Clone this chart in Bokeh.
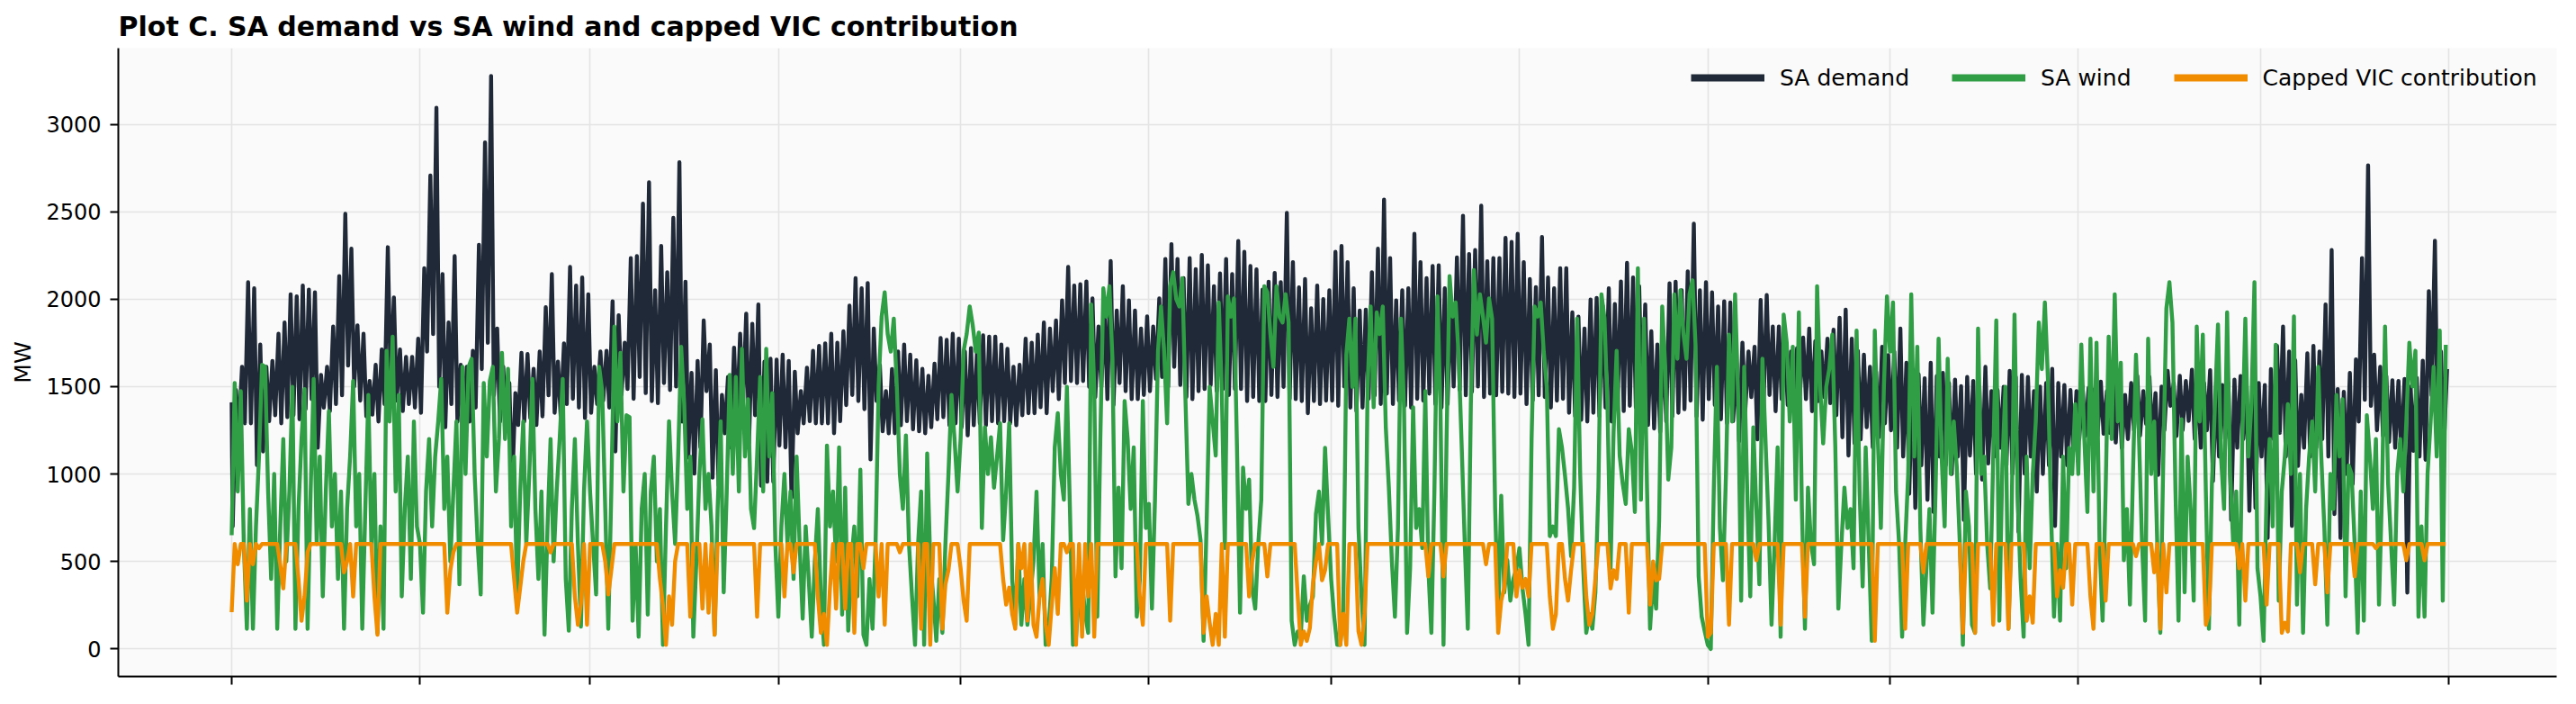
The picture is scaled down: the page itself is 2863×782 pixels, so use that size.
import pandas as pd
from bokeh.plotting import figure
from bokeh.models import (ColumnDataSource, Range1d, FixedTicker, Legend, LegendItem,
                          CustomJSTickFormatter)
from bokeh.embed import file_html
from bokeh.resources import INLINE

# ---------------------------------------------------------------- data
title_text = "Plot C. SA demand vs SA wind and capped VIC contribution"
series_names = ["SA demand", "SA wind", "Capped VIC contribution"]
y_label = "MW"
y_ticks = [0, 500, 1000, 1500, 2000, 2500, 3000]
year_start = "2023-01-01"

# SA demand (MW): value at the very start, then one overnight low and one evening high per day
demand_start = 1410
demand_daily_min = [
    # Jan
    700, 1244, 1290, 1290, 1050, 1129, 1302, 1336, 1290, 1325, 1336, 1313, 1371, 1428, 1150, 1380,
    1360, 1400, 1450, 1620, 1500, 1420, 1330, 1340, 1300, 1400, 1530, 1420, 1360, 1400, 1380,
    # Feb
    1350, 1700, 1800, 1500, 1267, 1400, 1300, 1250, 1300, 1380, 1600, 1750, 1450, 1300, 1270, 920,
    1280, 1300, 1320, 1280, 1330, 1450, 1350, 1330, 1400, 1430, 1380, 1320,
    # Mar
    1350, 1400, 1420, 1380, 1129, 1452, 1486, 1430, 1555, 1463, 1417, 1405, 1520, 1480, 1500, 1300,
    1094, 1002, 1152, 1474, 979, 933, 1233, 1152, 1290, 1382, 1175, 1336, 933, 956, 956,
    # Apr
    1163, 1152, 864, 1233, 1290, 1302, 1290, 1290, 1290, 1233, 1302, 1394, 1452, 1417, 1371, 1083,
    1417, 1244, 1233, 1233, 1279, 1302, 1256, 1244, 1233, 1267, 1313, 1325, 1279, 1290,
    # May
    1267, 1221, 1279, 1290, 1279, 1302, 1290, 1302, 1290, 1279, 1336, 1348, 1348, 1382, 1348, 1474,
    1428, 1520, 1532, 1520, 1532, 1498, 1440, 1498, 1428, 1394, 1520, 1474, 1428, 1428, 1452,
    # Jun
    1474, 1544, 1555, 1498, 1613, 1509, 1440, 1428, 1474, 1486, 1509, 1474, 1486, 1452, 1486, 1486,
    1417, 1440, 1417, 1417, 1452, 1440, 1498, 1428, 1428, 1417, 1348, 1417, 1400, 1420,
    # Jul
    1420, 1390, 1500, 1380, 1360, 1380, 1430, 1450, 1400, 1460, 1400, 1420, 1390, 1380, 1430, 1420,
    1460, 1400, 1380, 1400, 1500, 1480, 1450, 1470, 1500, 1440, 1460, 1450, 1470, 1460, 1440,
    # Aug
    1460, 1400, 1420, 1450, 1440, 1380, 1420, 1430, 1350, 1330, 1310, 1300, 1350, 1330, 1380, 1300,
    1400, 1360, 1390, 1380, 1370, 1280, 1260, 1240, 1300, 1330, 1350, 1370, 1420, 1330, 1310,
    # Sep
    1428, 1394, 1313, 1290, 1302, 1187, 1359, 1440, 1198, 1371, 1452, 1359, 1428, 1394, 1417, 1452,
    1428, 1359, 1417, 1440, 1405, 1336, 1210, 1106, 1175, 1198, 1267, 1152, 1210, 1290,
    # Oct
    1250, 1150, 1100, 887, 806, 1050, 852, 783, 1100, 1050, 1000, 1100, 737, 1106, 1000, 968,
    1060, 1100, 1150, 1050, 1000, 668, 1002, 1100, 899, 1000, 1050, 703, 1100, 1050, 1132,
    # Nov
    1200, 1218, 1250, 1218, 1230, 1235, 1180, 1149, 1200, 1250, 1220, 1287, 1200, 995, 1250, 1390,
    1218, 1250, 1304, 1200, 1150, 1250, 960, 1100, 1200, 737, 1150, 1200, 789, 806,
    # Dec
    1100, 634, 1200, 1235, 1100, 703, 1046, 1150, 1100, 1150, 1200, 1100, 771, 634, 1000, 943,
    1300, 1424, 1390, 1250, 1218, 1184, 1150, 1100, 322, 1132, 1100, 1081, 1450, 1200, 1150,
]
demand_daily_max = [
    # Jan
    1480, 1613, 2097, 2062, 1740, 1613, 1647, 1802, 1866, 2028, 2016, 2078, 2055, 2039, 1567, 1613,
    1843, 2131, 2488, 2288, 1850, 1802, 1532, 1624, 1712, 2297, 2009, 1712, 1670, 1670, 1774,
    # Feb
    2177, 2707, 3094, 2143, 1866, 2246, 1624, 1613, 1705, 2311, 2896, 3276, 1832, 1613, 1520, 1463,
    1693, 1686, 1601, 1700, 1954, 2143, 1642, 1747, 2184, 2078, 2124, 2028,
    # Mar
    1613, 1700, 1705, 1988, 1908, 1751, 2235, 2246, 2546, 2668, 2051, 2304, 2154, 2465, 2783, 2100,
    1578, 1647, 1878, 1740, 1594, 1452, 1555, 1723, 1802, 1917, 1859, 1970, 1642, 1659, 1654,
    # Apr
    1682, 1647, 1585, 1474, 1608, 1705, 1733, 1747, 1802, 1751, 1816, 1963, 2120, 2062, 2092, 1832,
    1624, 1474, 1600, 1700, 1740, 1682, 1650, 1601, 1562, 1631, 1778, 1767, 1802, 1774,
    # May
    1700, 1720, 1705, 1793, 1786, 1786, 1740, 1716, 1613, 1624, 1774, 1751, 1797, 1866, 1832, 1878,
    1993, 2184, 2078, 2085, 2101, 2004, 1843, 1935, 2218, 1935, 2074, 1993, 1935, 1832, 1901,
    # Jun
    1843, 2004, 2230, 2315, 2230, 2120, 2235, 2172, 2253, 2193, 2074, 2147, 2230, 2143, 2332, 2270,
    2189, 2170, 2055, 2100, 2150, 2097, 2493, 2212, 2067, 2115, 1947, 2078, 2000, 2050,
    # Jul
    2270, 2304, 2212, 2062, 1935, 1940, 2154, 2288, 2569, 2235, 1993, 2050, 2062, 2373, 2212, 2120,
    2189, 2193, 2062, 2000, 2239, 2477, 2258, 2281, 2534, 2216, 2235, 2235, 2350, 2327, 2373,
    # Aug
    2212, 2115, 2069, 2355, 2124, 2062, 2177, 2177, 1924, 1900, 1832, 1998, 2007, 1963, 2062, 1972,
    2101, 2207, 2124, 2074, 1970, 1816, 1740, 1774, 2090, 2100, 2051, 2159, 2431, 2050, 2097,
    # Sep
    2039, 1958, 1988, 1981, 1647, 1751, 1700, 1728, 1995, 2023, 1843, 1843, 1750, 1700, 1720, 1780,
    1832, 1760, 1700, 1774, 1825, 1894, 1940, 1774, 1705, 1682, 1613, 1585, 1728, 1680,
    # Oct
    1700, 1832, 1636, 1600, 1570, 1548, 1636, 1560, 1578, 1520, 1540, 1502, 1555, 1532, 1500, 1613,
    1474, 1480, 1498, 1590, 1555, 1567, 1555, 1474, 1500, 1520, 1601, 1520, 1509, 1480, 1474,
    # Nov
    1500, 1493, 1486, 1528, 1474, 1545, 1520, 1452, 1520, 1562, 1474, 1555, 1463, 1500, 1590, 1520,
    1562, 1532, 1596, 1480, 1520, 1594, 1530, 1509, 1520, 1540, 1560, 1500, 1480, 1520,
    # Dec
    1509, 1600, 1733, 1843, 1700, 1650, 1452, 1690, 1733, 1700, 1970, 2281, 1486, 1470, 1578, 1656,
    2235, 2765, 1682, 1613, 1560, 1536, 1532, 1544, 1500, 1550, 1648, 2046, 2334, 1700, 1600,
]

# SA wind (MW), two readings per day (00:00 and 12:00)
wind_half_daily = [
    # Jan
    650, 1520, 900, 1474, 600, 115, 800, 115, 700, 1100, 1624, 1613, 900, 400, 1000, 115,
    700, 1200, 500, 900, 1498, 115, 800, 1200, 1486, 115, 900, 1544, 600, 1100, 300, 900,
    1359, 700, 1000, 400, 900, 115, 800, 1100, 1532, 700, 1000, 115, 800, 1452, 600, 1000,
    92, 700, 115, 1705, 1300, 1786, 900, 1452, 300, 800, 1100, 400, 1300, 700,
    # Feb
    600, 207, 900, 1200, 700, 1100, 1300, 1544, 800, 1100, 500, 900, 1300, 369, 1613, 1000,
    1613, 1659, 1000, 600, 311, 1520, 1100, 1532, 1613, 900, 1200, 1693, 1200, 1601, 700, 1100,
    300, 900, 1300, 600, 1000, 1544, 800, 400, 900, 81, 700, 1200, 500, 900, 1200, 1544,
    400, 104, 800, 1200, 600, 127, 900, 1300,
    # Mar
    900, 600, 311, 1613, 1474, 800, 115, 900, 1843, 1300, 1693, 900, 1336, 1325, 161, 600,
    69, 800, 1000, 196, 900, 1100, 500, 800, 23, 700, 1302, 900, 600, 1100, 1728, 1400,
    800, 1100, 69, 500, 1000, 1313, 800, 1000, 700, 81, 800, 1302, 323, 900, 1567, 1000,
    1555, 900, 1716, 1100, 1428, 800, 691, 1100, 1555, 900, 1716, 1100, 1463, 600,
    # Apr
    184, 700, 1000, 600, 900, 400, 1100, 600, 173, 700, 400, 69, 500, 800, 300, 23,
    1163, 700, 900, 500, 1152, 196, 922, 104, 500, 700, 300, 1025, 81, 23, 400, 115,
    600, 1500, 1900, 2039, 1800, 1700, 1889, 1500, 1000, 800, 1221, 600, 300, 23, 600, 900,
    23, 1117, 500, 300, 46, 400, 92, 600, 1000, 1452, 1200, 900,
    # May
    1200, 1705, 1800, 1958, 1850, 1700, 1809, 691, 1267, 1000, 1210, 922, 1100, 1290, 622, 900,
    1290, 400, 138, 600, 138, 400, 138, 300, 500, 899, 300, 600, 23, 115, 400, 1152,
    1348, 1000, 853, 1498, 800, 23, 69, 300, 392, 200, 92, 1970, 1500, 184, 1200, 2062,
    1900, 2074, 1659, 415, 922, 461, 1417, 1200, 800, 1152, 184, 392, 1417, 691,
    # Jun
    829, 230, 853, 1705, 1958, 1700, 1290, 2074, 2154, 2000, 1958, 2120, 1452, 829, 1000, 853,
    760, 622, 46, 714, 1498, 1300, 1106, 1981, 1474, 576, 2016, 1900, 2004, 1152, 207, 1037,
    800, 968, 346, 230, 600, 853, 2074, 2039, 1800, 1613, 2074, 1900, 1866, 2028, 1866, 161,
    23, 100, 69, 415, 161, 250, 300, 772, 900, 600, 1150, 760,
    # Jul
    400, 184, 23, 23, 230, 1682, 1889, 1498, 1889, 691, 300, 23, 1498, 1958, 1382, 1924,
    1800, 1958, 1267, 922, 500, 184, 691, 1889, 1382, 92, 461, 1382, 691, 800, 576, 1474,
    461, 92, 900, 2016, 1382, 23, 1200, 2131, 1900, 1981, 1670, 1152, 600, 115, 1400, 2166,
    1797, 2028, 1900, 1751, 2004, 1889, 800, 184, 876, 323, 507, 276, 400, 461,
    # Aug
    576, 346, 200, 23, 1200, 1958, 1900, 1981, 1700, 1498, 645, 700, 645, 1256, 1152, 991,
    806, 530, 922, 1889, 1000, 461, 92, 200, 115, 323, 922, 2028, 1889, 1382, 461, 1244,
    1705, 1106, 945, 829, 1256, 1129, 783, 2177, 853, 1889, 922, 115, 400, 230, 737, 1958,
    1613, 968, 1152, 2028, 1659, 2051, 1800, 1659, 2028, 2108, 1728, 415, 184, 100,
    # Sep
    23, 0, 922, 1613, 691, 392, 1000, 1797, 1300, 2028, 1452, 276, 1613, 900, 300, 1267,
    800, 369, 1659, 1200, 737, 138, 600, 1152, 69, 1912, 1751, 1300, 1728, 853, 1924, 800,
    115, 922, 600, 484, 2074, 1500, 1175, 1498, 1600, 1797, 1152, 230, 600, 922, 691, 800,
    461, 1820, 900, 357, 1152, 600, 46, 1820, 1200, 691, 1500, 2016,
    # Oct
    1700, 1981, 900, 600, 69, 600, 1000, 2028, 1100, 1728, 691, 138, 461, 800, 207, 900,
    1774, 1100, 700, 1659, 1000, 1300, 1037, 600, 23, 900, 700, 138, 92, 1832, 1000, 1100,
    600, 346, 1100, 1878, 161, 1050, 1498, 115, 700, 1912, 900, 400, 69, 1100, 461, 1000,
    1300, 1866, 1600, 1981, 1544, 800, 184, 600, 161, 1100, 461, 1150, 1000, 1400,
    # Nov
    1000, 1740, 1200, 783, 1774, 900, 1751, 600, 161, 900, 1786, 1200, 2028, 1300, 1636, 507,
    800, 253, 1000, 1682, 1200, 600, 161, 1774, 1000, 1300, 600, 92, 1100, 1947, 2097, 1866,
    900, 161, 1313, 323, 1100, 800, 276, 1843, 1300, 1797, 900, 115, 950, 1400, 1855, 1100,
    800, 1924, 1000, 600, 900, 138, 1200, 1889, 1100, 1400, 2097, 461,
    # Dec
    300, 46, 900, 1200, 700, 1739, 276, 900, 1100, 1400, 1000, 1901, 253, 1000, 92, 800,
    1100, 1300, 900, 1613, 1100, 700, 138, 1000, 800, 1452, 1100, 1428, 300, 1050, 1000, 600,
    92, 900, 161, 1336, 1100, 800, 1200, 253, 900, 1843, 950, 600, 253, 1000, 1200, 900,
    1300, 1751, 1500, 1705, 184, 700, 184, 1000, 1300, 1613, 1100, 1820, 276, 1739,
]

# Capped VIC contribution (MW): sits at the cap except at the listed half-day readings
vic_cap = 600
vic_dip_index = [
    0, 2, 5, 7, 9, 16, 17, 22, 23, 24, 25, 37, 38, 40, 47, 48, 71, 72, 73, 93, 94, 95, 96, 105,
    113, 114, 115, 117, 123, 124, 125, 141, 142, 143, 144, 145, 146, 151, 155, 157, 159, 173,
    182, 185, 193, 194, 195, 196, 197, 199, 202, 205, 208, 213, 215, 220, 227, 230, 234, 235,
    236, 240, 241, 242, 254, 255, 256, 257, 258, 260, 262, 264, 265, 266, 267, 268, 269, 270,
    271, 272, 275, 278, 280, 282, 284, 299, 300, 309, 320, 321, 322, 323, 324, 325, 327, 335,
    336, 341, 351, 352, 353, 354, 355, 356, 357, 359, 360, 365, 366, 367, 371, 372, 373, 394,
    399, 413, 417, 418, 419, 423, 424, 425, 426, 427, 434, 435, 436, 439, 440, 441, 446, 447,
    448, 449, 454, 455, 456, 460, 467, 468, 469, 470, 486, 487, 493, 502, 510, 518, 541, 551,
    557, 570, 574, 580, 585, 591, 592, 593, 601, 602, 603, 606, 612, 613, 617, 627, 633, 635,
    637, 650, 651, 661, 663, 670, 675, 676, 677, 681, 686, 690, 699, 706, 716, 722,
]
vic_dip_value = [
    210, 484, 276, 484, 576, 480, 346, 400, 161, 300, 553, 438, 500, 300, 300, 81, 207, 450, 553,
    400, 207, 350, 500, 553, 300, 138, 260, 138, 500, 311, 450, 400, 250, 23, 300, 138, 500,
    184, 230, 207, 81, 184, 300, 438, 300, 92, 200, 23, 350, 230, 230, 92, 461, 300, 138, 553,
    115, 23, 115, 369, 450, 461, 276, 161, 400, 253, 350, 200, 115, 461, 161, 138, 69, 300, 400,
    138, 23, 250, 461, 200, 553, 23, 69, 300, 69, 300, 138, 161, 92, 300, 150, 23, 200, 23, 69,
    300, 500, 415, 300, 23, 100, 46, 120, 369, 500, 392, 450, 23, 200, 23, 100, 23, 200, 415,
    415, 484, 92, 276, 350, 300, 450, 350, 400, 300, 300, 115, 200, 400, 276, 450, 300, 138,
    200, 400, 346, 450, 400, 207, 253, 500, 392, 400, 69, 92, 138, 507, 138, 184, 46, 115,
    438, 92, 92, 138, 115, 161, 300, 150, 300, 450, 350, 253, 300, 115, 276, 530, 438, 115,
    323, 138, 200, 461, 276, 253, 92, 150, 100, 438, 369, 323, 415, 576, 507, 507,
]

# ---------------------------------------------------------------- build series
t0 = pd.Timestamp(year_start)

demand_x = [t0]
demand_y = [demand_start]
for d, (lo, hi) in enumerate(zip(demand_daily_min, demand_daily_max)):
    demand_x += [t0 + pd.Timedelta(days=d, hours=4), t0 + pd.Timedelta(days=d, hours=17)]
    demand_y += [lo, hi]

wind_x = [t0 + pd.Timedelta(hours=12 * i) for i in range(len(wind_half_daily))]
vic_y = [vic_cap] * len(wind_half_daily)
for i, v in zip(vic_dip_index, vic_dip_value):
    if i < len(vic_y):
        vic_y[i] = v

src_demand = ColumnDataSource(dict(x=demand_x, y=demand_y))
src_wind = ColumnDataSource(dict(x=wind_x, y=wind_half_daily))
src_vic = ColumnDataSource(dict(x=wind_x, y=vic_y))


def ms(ts):
    return ts.value / 1e6


month_ticks = [ms(t) for t in pd.date_range(t0, periods=13, freq="MS")]
x_start = ms(t0 - pd.Timedelta(days=18.66))
x_end = ms(t0 + pd.Timedelta(days=382.75))

colors = ["#1f2937", "#2f9e44", "#f08c00"]
FONT = "DejaVu Sans"
FRAME_W, FRAME_H = 2710, 698

p = figure(
    x_axis_type="datetime",
    frame_width=FRAME_W, frame_height=FRAME_H,
    x_range=Range1d(x_start, x_end),
    y_range=Range1d(-158, 3435),
    output_backend="svg", toolbar_location=None,
    min_border_left=131, min_border_right=20, min_border_top=53, min_border_bottom=28,
    background_fill_color="#fafafa", border_fill_color="white",
)
p.outline_line_color = None

p.title.text = title_text
p.title.text_font = FONT
p.title.text_font_size = "30px"
p.title.text_font_style = "bold"
p.title.text_color = "black"
p.title.align = "left"
p.title.standoff = 14

for g in (p.xgrid[0], p.ygrid[0]):
    g.grid_line_color = "#e4e4e4"
    g.grid_line_width = 1.6

for ax in (p.xaxis[0], p.yaxis[0]):
    ax.axis_line_color = "black"
    ax.axis_line_width = 2
    ax.major_tick_line_color = "black"
    ax.major_tick_line_width = 2
    ax.major_tick_out = 9
    ax.major_tick_in = 0
    ax.minor_tick_out = 0
    ax.minor_tick_in = 0
    ax.major_label_text_font = FONT
    ax.major_label_text_font_size = "24px"
    ax.major_label_text_color = "black"

p.yaxis[0].ticker = FixedTicker(ticks=y_ticks)
p.yaxis[0].major_label_standoff = 10
p.yaxis[0].axis_label = y_label
p.yaxis[0].axis_label_text_font = FONT
p.yaxis[0].axis_label_text_font_size = "25px"
p.yaxis[0].axis_label_text_font_style = "normal"
p.yaxis[0].axis_label_text_color = "black"
p.yaxis[0].axis_label_standoff = 8

p.xaxis[0].ticker = FixedTicker(ticks=month_ticks)
p.xaxis[0].formatter = CustomJSTickFormatter(code="return ''")
p.xaxis[0].major_label_text_font_size = "0px"

lw = 4.4
p.line("x", "y", source=src_demand, line_color=colors[0], line_width=lw, line_join="round")
p.line("x", "y", source=src_wind, line_color=colors[1], line_width=lw, line_join="round")
p.line("x", "y", source=src_vic, line_color=colors[2], line_width=lw, line_join="round")

# legend keys (thicker strokes, as in the original); one off-canvas point so the key is drawn
key_src = ColumnDataSource(dict(x=[x_start - 864e5 * 30], y=[-5000]))
keys = [p.line("x", "y", source=key_src, line_color=c, line_width=8) for c in colors]
legend = Legend(
    items=[LegendItem(label=n, renderers=[r]) for n, r in zip(series_names, keys)],
    orientation="horizontal", location=(1746, FRAME_H - 16 - 34),
    glyph_width=82, glyph_height=30, label_standoff=17, spacing=47,
    padding=2, margin=0,
    label_text_font=FONT, label_text_font_size="25px", label_text_color="black",
    background_fill_alpha=0, border_line_alpha=0,
)
p.add_layout(legend)

open("out.html", "w").write(file_html(p, INLINE))
